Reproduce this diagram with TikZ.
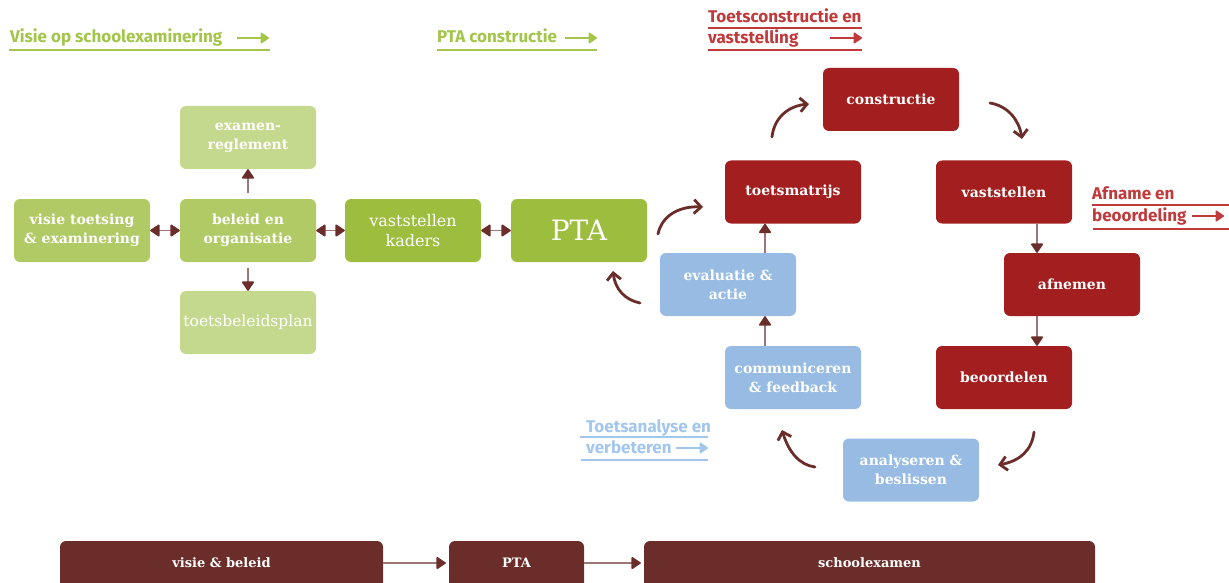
\documentclass[tikz,border=0pt]{standalone}
\usepackage{fontspec}
\setmainfont{DejaVu Serif}
\newfontfamily\headfont{Fira Sans}
\usetikzlibrary{arrows.meta,calc}
\definecolor{hgreen}{HTML}{A3C54A}
\definecolor{hred}{HTML}{C0393B}
\definecolor{hblue}{HTML}{A3C6EC}
\definecolor{lgreen}{HTML}{C5D98E}
\definecolor{mgreen}{HTML}{B0CA66}
\definecolor{dgreen}{HTML}{9DBD3F}
\definecolor{bred}{HTML}{A21E1F}
\definecolor{bblue}{HTML}{97BBE3}
\definecolor{brown}{HTML}{6B2D2A}
\definecolor{lbrown}{HTML}{9D7675}
\tikzset{
  box/.style={rounded corners=6pt, minimum width=136pt, minimum height=63pt, inner sep=2pt,
    text=white, align=center, font=\fontsize{14}{19}\selectfont\bfseries},
  bottombox/.style={rounded corners=6pt, fill=brown, text=white, inner xsep=0pt, inner ysep=0pt,
    text height=26pt, text depth=30pt, font=\fontsize{13}{16}\selectfont\bfseries},
  conn/.style={draw=lbrown, line width=1.6pt},
  tp/.tip={Triangle[round,length=10pt,width=13pt,color=brown,fill=brown]},
  ht/.tip={Triangle[round,length=9pt,width=12pt]},
  curv/.style={draw=brown, line width=2.8pt, line cap=round, -{Straight Barb[length=7pt,width=14pt,line width=2.8pt]}},
  head/.style={font=\headfont\fontsize{17}{20}\selectfont\bfseries, anchor=base west, inner sep=0pt},
  hline/.style={line width=1.4pt},
}
\begin{document}
\begin{tikzpicture}[x=1pt,y=-1pt]
\useasboundingbox (0,0) rectangle (1229,583);
\begin{scope}
\clip (0,0) rectangle (1229,583);
% headings
\node[head, text=hgreen] (h1) at (10,43) {Visie op schoolexaminering};
\draw[hgreen, hline] (9,50) -- (270,50);
\draw[hgreen, hline, -ht] (237,38) -- (269,38);
\node[head, text=hgreen] (h2) at (437,43) {PTA constructie};
\draw[hgreen, hline] (437,50) -- (597,50);
\draw[hgreen, hline, -ht] (565,38) -- (597,38);

\node[head, text=hred] (h3) at (708,23) {Toetsconstructie en};
\draw[hred, hline] (708,28) -- (862,28);
\node[head, text=hred] (h3b) at (708,44) {vaststelling};
\draw[hred, hline, -ht] (830,38) -- (862,38);
\draw[hred, hline] (708,50) -- (862,50);

\node[head, text=hred] (h4) at (1092,200) {Afname en};
\draw[hred, hline] (1092,205) -- (1229,205);
\node[head, text=hred] (h4b) at (1092,221) {beoordeling};
\draw[hred, hline, -ht] (1192,216) -- (1224,216);
\draw[hred, hline] (1093,229) -- (1229,229);

\node[head, text=hblue] (h5) at (586,432) {Toetsanalyse en};
\draw[hblue, hline] (580,437) -- (708,437);
\node[head, text=hblue] (h5b) at (586,453) {verbeteren};
\draw[hblue, hline, -ht] (676,448) -- (708,448);
\draw[hblue, hline] (581,460) -- (708,460);

% green boxes
\node[box, fill=mgreen] (visie) at (82,230.5) {visie toetsing\\\& examinering};
\node[box, fill=mgreen] (beleid) at (248,230.5) {beleid en\\organisatie};
\node[box, fill=lgreen] (examen) at (248,137.5) {examen-\\reglement};
\node[box, fill=lgreen, font=\fontsize{15.5}{19}\selectfont] (tbp) at (248,322.5) {toetsbeleidsplan};
\node[box, fill=dgreen, font=\fontsize{16}{20}\selectfont] (kaders) at (413,230.5) {vaststellen\\kaders};
\node[box, fill=dgreen, font=\fontsize{28}{30}\selectfont] (pta) at (579,230.5) {PTA};

% red boxes
\node[box, fill=bred] (constr) at (891,99.5) {constructie};
\node[box, fill=bred] (matrijs) at (793,192) {toetsmatrijs};
\node[box, fill=bred] (vastst) at (1004,192) {vaststellen};
\node[box, fill=bred] (afnemen) at (1072,284.5) {afnemen};
\node[box, fill=bred] (beoord) at (1004,377.5) {beoordelen};

% blue boxes
\node[box, fill=bblue] (eval) at (728,284.5) {evaluatie \&\\actie};
\node[box, fill=bblue] (comm) at (793,377.5) {communiceren\\\& feedback};
\node[box, fill=bblue] (analys) at (911,470) {analyseren \&\\beslissen};

% bottom boxes
\node[bottombox, minimum width=323pt] (bvisie) at (221.5,569) {visie \& beleid};
\node[bottombox, minimum width=135pt] (bpta) at (516.5,569) {PTA};
\node[bottombox, minimum width=451pt] (bschool) at (869.5,569) {schoolexamen};
\end{scope}

% straight connectors
\draw[conn, tp-tp] (visie.east) -- (beleid.west);
\draw[conn, tp-tp] (beleid.east) -- (kaders.west);
\draw[conn, tp-tp] (kaders.east) -- (pta.west);
\draw[conn, -tp, shorten <=6pt] (beleid.north) -- (examen.south);
\draw[conn, -tp, shorten <=6pt] (beleid.south) -- (tbp.north);
\draw[conn, -tp] ([xshift=33pt]vastst.south) -- ([xshift=-35pt]afnemen.north);
\draw[conn, -tp] ([xshift=-35pt]afnemen.south) -- ([xshift=33pt]beoord.north);
\draw[conn, -tp] ([xshift=-28pt]comm.north) -- ([xshift=37pt]eval.south);
\draw[conn, -tp] ([xshift=37pt]eval.north) -- ([xshift=-28pt]matrijs.south);
\draw[conn, -tp, shorten >=3pt] (bvisie.east |- 0,563) -- (bpta.west |- 0,563);
\draw[conn, -tp, shorten >=3pt] (bpta.east |- 0,563) -- (bschool.west |- 0,563);

% curved arrows
\coordinate (c1a) at (658,234); \coordinate (c1b) at (703,207);
\coordinate (c2a) at (772,137); \coordinate (c2b) at (809,104);
\coordinate (c3a) at (990,103); \coordinate (c3b) at (1022,139);
\coordinate (c4a) at (1034,432); \coordinate (c4b) at (998,465);
\coordinate (c5a) at (815,467); \coordinate (c5b) at (782,430);
\coordinate (c6a) at (640,303); \coordinate (c6b) at (613,271);
\draw[curv] (c1a) .. controls (662,215) and (680,206) .. (c1b);
\draw[curv] (c2a) .. controls (774,118) and (788,106) .. (c2b);
\draw[curv] (c3a) .. controls (1008,106) and (1019,120) .. (c3b);
\draw[curv] (c4a) .. controls (1032,450) and (1020,461) .. (c4b);
\draw[curv] (c5a) .. controls (800,465) and (789,453) .. (c5b);
\draw[curv] (c6a) .. controls (625,300) and (615,289) .. (c6b);
\end{tikzpicture}
\end{document}
